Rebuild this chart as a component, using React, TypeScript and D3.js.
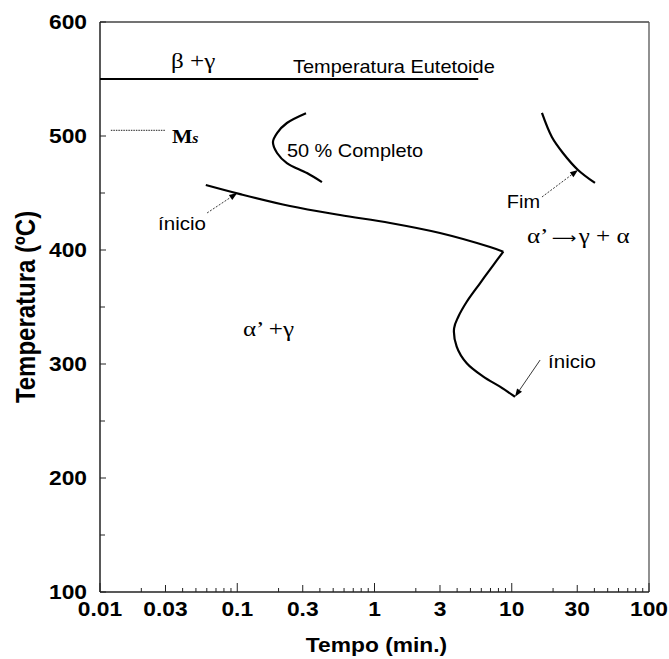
import React from "react";
import * as d3 from "d3";

// ---- Data (time in minutes, temperature in °C) ----
const xTickValues = [0.01, 0.03, 0.1, 0.3, 1, 3, 10, 30, 100];
const xTickLabels = ["0.01", "0.03", "0.1", "0.3", "1", "3", "10", "30", "100"];
const yTickValues = [100, 200, 300, 400, 500, 600];

const startUpperTime = [0.059, 0.105, 0.242, 0.561, 1.3, 3.0, 6.95, 8.68];
const startUpperTemp = [457, 449, 438.6, 430.7, 423.7, 414.9, 402.6, 398.5];
const startLowerTime = [8.68, 7.34, 5.87, 4.7, 4.08, 3.8, 3.97, 4.7, 6.21, 8.21, 10.56];
const startLowerTemp = [398.5, 386.8, 370.8, 354.6, 341.5, 331.3, 315.2, 300.6, 288.9, 280.1, 271.3];
const halfTime = [0.317, 0.23, 0.195, 0.182, 0.195, 0.23, 0.322, 0.414];
const halfTemp = [520, 511.4, 502.6, 494.7, 485.1, 476.3, 467.5, 459.6];
const endTime = [16.6, 19.6, 23.6, 30.4, 40.4];
const endTemp = [520.2, 499.1, 485.1, 470.2, 458.8];

const eutectoidTime = [0.01, 5.7];
const eutectoidTemp = 550;
const msTime = [0.012, 0.03];
const msTemp = 505;

const W = 669;
const H = 659;
const margin = { left: 100, right: 20, top: 22, bottom: 67 };
const SX = 1.14; // horizontal stretch of the lettering in the source

const sans = "'Liberation Sans', Arial, Helvetica, sans-serif";
const serif = "'Liberation Serif', 'Times New Roman', serif";

function Txt(props: {
  x: number; y: number; size: number; family?: string; weight?: string;
  anchor?: "start" | "middle" | "end"; children: React.ReactNode;
}) {
  const { x, y, size, family = sans, weight = "normal", anchor = "start", children } = props;
  return (
    <text transform={`translate(${x},${y}) scale(${SX},1)`} fontFamily={family} fontWeight={weight}
      fontSize={size} textAnchor={anchor} fill="#000">{children}</text>
  );
}

export default function App() {
  const x = d3.scaleLog().domain([0.01, 100]).range([margin.left, W - margin.right]);
  const y = d3.scaleLinear().domain([100, 600]).range([H - margin.bottom, margin.top]);
  const x0 = x.range()[0], x1 = x.range()[1];
  const y0 = y.range()[0], y1 = y.range()[1];

  const line = d3
    .line<[number, number]>()
    .x((d) => x(d[0]))
    .y((d) => y(d[1]))
    .curve(d3.curveCatmullRom.alpha(0.5));
  const zip = (a: number[], b: number[]) => a.map((v, i) => [v, b[i]] as [number, number]);

  const xMinor: { v: number; len: number }[] = [];
  for (let e = -2; e < 2; e++) {
    for (let m = 2; m <= 9; m++) {
      xMinor.push({ v: m * Math.pow(10, e), len: m === 3 ? 7 : 4 });
    }
  }
  const xMajor = [0.01, 0.1, 1, 10, 100];
  const yMinor = [150, 250, 350, 450, 550];

  const arrow = (tx: number, ty: number, fx: number, fy: number, dashed: boolean, key: string) => {
    const X1 = x(fx), Y1 = y(fy), X2 = x(tx), Y2 = y(ty);
    const ang = Math.atan2(Y2 - Y1, X2 - X1);
    const L = 8, Wd = 3;
    const bx = X2 - L * Math.cos(ang), by = Y2 - L * Math.sin(ang);
    const p1 = [bx + Wd * Math.sin(ang), by - Wd * Math.cos(ang)];
    const p2 = [bx - Wd * Math.sin(ang), by + Wd * Math.cos(ang)];
    return (
      <g key={key}>
        <line x1={X1} y1={Y1} x2={bx} y2={by} stroke="#222" strokeWidth={0.9}
          strokeDasharray={dashed ? "2,1.5" : undefined} />
        <polygon points={`${X2},${Y2} ${p1[0]},${p1[1]} ${p2[0]},${p2[1]}`} fill="#000" />
      </g>
    );
  };

  return (
    <svg width={W} height={H} style={{ position: "absolute", left: 0, top: 0, background: "#fff" }}>
      {/* frame */}
      <line x1={x0} y1={y1} x2={x1} y2={y1} stroke="#444" strokeWidth={1.3} />
      <line x1={x1} y1={y1} x2={x1} y2={y0} stroke="#555" strokeWidth={1.3} />
      <line x1={x0} y1={y1} x2={x0} y2={y0} stroke="#222" strokeWidth={1.5} />
      <line x1={x0} y1={y0} x2={x1} y2={y0} stroke="#222" strokeWidth={1.5} />

      {/* x ticks */}
      {xMajor.map((v) => (
        <line key={"xM" + v} x1={x(v)} x2={x(v)} y1={y0} y2={y0 - 9} stroke="#222" strokeWidth={1} />
      ))}
      {xMinor.map((t) => (
        <line key={"xm" + t.v} x1={x(t.v)} x2={x(t.v)} y1={y0} y2={y0 - t.len} stroke="#222" strokeWidth={1} />
      ))}
      {xTickValues.map((v, i) => (
        <Txt key={"xl" + v} x={x(v)} y={y0 + 24} size={20} weight="bold" anchor="middle">{xTickLabels[i]}</Txt>
      ))}

      {/* y ticks */}
      {yTickValues.map((v) => (
        <line key={"yM" + v} x1={x0} x2={x0 + 6} y1={y(v)} y2={y(v)} stroke="#222" strokeWidth={1} />
      ))}
      {yMinor.map((v) => (
        <line key={"ym" + v} x1={x0} x2={x0 + 5} y1={y(v)} y2={y(v)} stroke="#222" strokeWidth={1} />
      ))}
      {yTickValues.map((v) => (
        <Txt key={"yl" + v} x={x0 - 13} y={y(v) + 7} size={20} weight="bold" anchor="end">{v}</Txt>
      ))}

      {/* axis titles */}
      <Txt x={(x0 + x1) / 2 + 2} y={652} size={20} weight="bold" anchor="middle">Tempo (min.)</Txt>
      <text transform={`translate(35,${(y0 + y1) / 2}) scale(${SX},1) rotate(-90)`} textAnchor="middle"
        fontFamily={sans} fontWeight="bold" fontSize={24} fill="#000">Temperatura (ºC)</text>

      {/* eutectoid line */}
      <line x1={x(eutectoidTime[0])} x2={x(eutectoidTime[1])} y1={y(eutectoidTemp)} y2={y(eutectoidTemp)}
        stroke="#000" strokeWidth={2} />
      {/* Ms line */}
      <line x1={x(msTime[0])} x2={x(msTime[1])} y1={y(msTemp)} y2={y(msTemp)}
        stroke="#222" strokeWidth={1} strokeDasharray="1.5,1" />

      {/* curves */}
      <path d={line(zip(startUpperTime, startUpperTemp)) || ""} fill="none" stroke="#000" strokeWidth={2.2} />
      <path d={line(zip(startLowerTime, startLowerTemp)) || ""} fill="none" stroke="#000" strokeWidth={2.2} />
      <path d={line(zip(halfTime, halfTemp)) || ""} fill="none" stroke="#000" strokeWidth={2.2} />
      <path d={line(zip(endTime, endTemp)) || ""} fill="none" stroke="#000" strokeWidth={2.2} />

      {/* arrows */}
      {arrow(0.1, 450, 0.0603, 432.5, true, "a1")}
      {arrow(10.56, 271.3, 16.1, 303.5, false, "a2")}
      {arrow(30.4, 470.2, 16.6, 446.5, true, "a3")}

      {/* labels */}
      <Txt x={x(0.0329)} y={y(559.6)} size={22} family={serif}>β +γ</Txt>
      <Txt x={x(0.255)} y={y(555.3)} size={17.5}>Temperatura Eutetoide</Txt>
      <Txt x={x(0.23)} y={y(481.6)} size={17.5}>50 % Completo</Txt>
      <text transform={`translate(${x(0.0334)},${y(493.9)}) scale(${SX},1)`} fontFamily={serif}
        fontWeight="bold" fill="#000">
        <tspan fontSize={19}>M</tspan>
        <tspan fontSize={14} fontStyle="italic">s</tspan>
      </text>
      <Txt x={x(0.0265)} y={y(417.5)} size={18}>ínicio</Txt>
      <Txt x={x(0.11)} y={y(324.6)} size={22} family={serif}>α’ +γ</Txt>
      <text transform={`translate(${x(12.9)},${y(406)}) scale(${SX},1)`} fontFamily={serif}
        fontSize={22} fill="#000">
        <tspan>α’</tspan>
        <tspan dx={3} fontFamily="'DejaVu Sans', sans-serif" fontSize={15}>⟶</tspan>
        <tspan dx={2}>γ + α</tspan>
      </text>
      <Txt x={x(9.2)} y={y(436.8)} size={17.5}>Fim</Txt>
      <Txt x={x(18.4)} y={y(296.5)} size={18}>ínicio</Txt>
    </svg>
  );
}
